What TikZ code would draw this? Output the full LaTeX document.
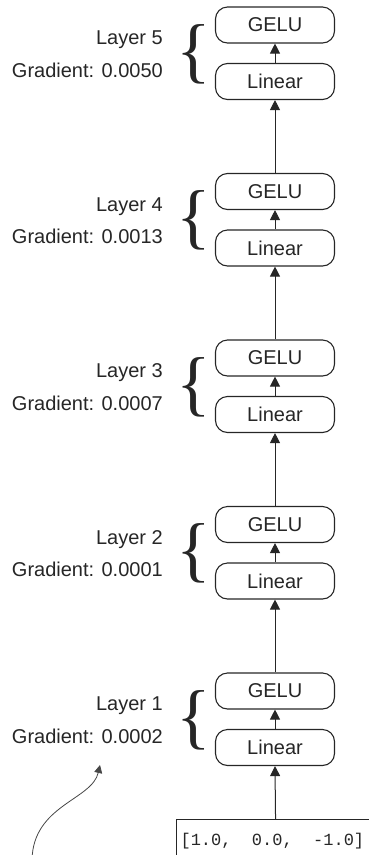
\documentclass[tikz,border=0pt]{standalone}
\usepackage{fontspec}
\setmainfont{Liberation Sans}
\setmonofont{Liberation Mono}
\newfontfamily\bracefont{Liberation Serif}
\usetikzlibrary{arrows.meta}
\definecolor{ink}{HTML}{262626}
\newcommand{\gap}{\hphantom{0}}

\begin{document}
\begin{tikzpicture}[x = 1pt, y = -1pt, every node/.style={text = ink, inner sep = 0pt, font = \fontsize{20}{24}\selectfont}, block/.style={draw = ink, line width = 1.1pt, rounded corners = 12pt, minimum width = 119pt, minimum height = 36pt}, label/.style={anchor = east}, flow/.style={draw = ink, line width = 1pt, -{Triangle[width = 10pt, length = 10pt]}}, curly/.style={font = \bracefont\fontsize{72}{72}\selectfont}]

  \useasboundingbox (0, 0) rectangle (369, 855);

  \node[block] (gelu5) at (275, 25) {GELU};
  \node[block] (linear5) at (275, 81.5) {Linear};
  \node[label] (layer5) at (163, 40) {Layer 5};
  \node[label] (grad5) at (163, 70) {Gradient: 0.0050};
  \node[curly] (brace5) at (194, 54) {\{};

  \node[block] (gelu4) at (275, 191.5) {GELU};
  \node[block] (linear4) at (275, 248) {Linear};
  \node[label] (layer4) at (163, 206.5) {Layer 4};
  \node[label] (grad4) at (163, 236.5) {Gradient: 0.0013};
  \node[curly] (brace4) at (194, 220.5) {\{};

  \node[block] (gelu3) at (275, 358) {GELU};
  \node[block] (linear3) at (275, 414.5) {Linear};
  \node[label] (layer3) at (163, 373) {Layer 3};
  \node[label] (grad3) at (163, 403) {Gradient: 0.0007};
  \node[curly] (brace3) at (194, 387) {\{};

  \node[block] (gelu2) at (275, 524.5) {GELU};
  \node[block] (linear2) at (275, 581) {Linear};
  \node[label] (layer2) at (163, 539.5) {Layer 2};
  \node[label] (grad2) at (163, 569.5) {Gradient: 0.0001};
  \node[curly] (brace2) at (194, 553.5) {\{};

  \node[block] (gelu1) at (275, 691) {GELU};
  \node[block] (linear1) at (275, 747.5) {Linear};
  \node[label] (layer1) at (163, 706) {Layer 1};
  \node[label] (grad1) at (163, 736) {Gradient: 0.0002};
  \node[curly] (brace1) at (194, 720) {\{};

  \node[draw = ink, line width = 1.1pt, anchor = north west, minimum height = 44pt, text width = 190pt, align = left, inner xsep = 4pt, font = \fontsize{17}{20}\ttfamily] (input) at (176, 819) {[1.0,\gap\gap0.0,\gap\gap-1.0]};

  \draw[flow] (input.north) -- (linear1.south);
  \draw[flow] (linear1.north) -- (gelu1.south);
  \draw[flow] (gelu1.north) -- (linear2.south);
  \draw[flow] (linear2.north) -- (gelu2.south);
  \draw[flow] (gelu2.north) -- (linear3.south);
  \draw[flow] (linear3.north) -- (gelu3.south);
  \draw[flow] (gelu3.north) -- (linear4.south);
  \draw[flow] (linear4.north) -- (gelu4.south);
  \draw[flow] (gelu4.north) -- (linear5.south);
  \draw[flow] (linear5.north) -- (gelu5.south);

  \coordinate (tail) at (32, 860);
  \coordinate (head) at (100, 765);
  \draw[ink!85, line width = 0.8pt, -{Triangle[width = 8pt, length = 8pt]}] (tail) .. controls (33, 805) and (92, 800) .. (head);

\end{tikzpicture}
\end{document}
